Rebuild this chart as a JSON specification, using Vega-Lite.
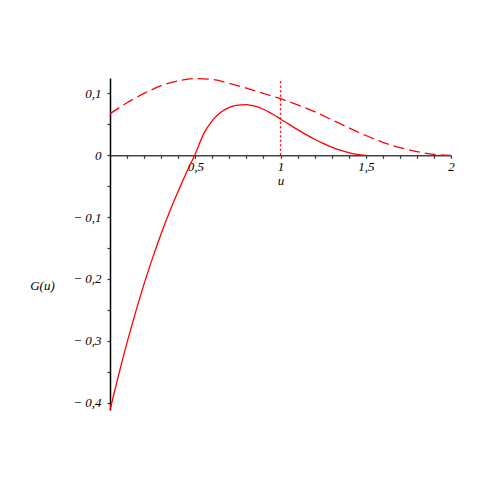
{
  "$schema": "https://vega.github.io/schema/vega-lite/v6.json",
  "autosize": "none",
  "width": 341,
  "height": 332,
  "padding": {"left": 110, "top": 78, "right": 40, "bottom": 81},
  "background": "white",
  "config": {"view": {"stroke": null}, "font": "Liberation Serif"},
  "datasets": {
    "solid": [
      {"u": 0, "G": -0.412}, {"u": 0.05, "G": -0.356}, {"u": 0.1, "G": -0.303}, {"u": 0.15, "G": -0.254},
      {"u": 0.2, "G": -0.208}, {"u": 0.25, "G": -0.166}, {"u": 0.3, "G": -0.127}, {"u": 0.35, "G": -0.091},
      {"u": 0.4, "G": -0.058}, {"u": 0.45, "G": -0.027}, {"u": 0.5, "G": 0.002}, {"u": 0.55, "G": 0.035},
      {"u": 0.6, "G": 0.056}, {"u": 0.65, "G": 0.0695}, {"u": 0.7, "G": 0.0775}, {"u": 0.75, "G": 0.0812},
      {"u": 0.8, "G": 0.082}, {"u": 0.85, "G": 0.0795}, {"u": 0.9, "G": 0.0745}, {"u": 0.95, "G": 0.0672},
      {"u": 1.0, "G": 0.0588}, {"u": 1.05, "G": 0.050}, {"u": 1.1, "G": 0.0415}, {"u": 1.15, "G": 0.0335},
      {"u": 1.2, "G": 0.026}, {"u": 1.25, "G": 0.0192}, {"u": 1.3, "G": 0.0132}, {"u": 1.35, "G": 0.0082},
      {"u": 1.4, "G": 0.0043}, {"u": 1.45, "G": 0.0013}, {"u": 1.5, "G": 0}
    ],
    "dashed": [
      {"u": 0, "G": 0.067}, {"u": 0.1, "G": 0.085}, {"u": 0.2, "G": 0.1}, {"u": 0.3, "G": 0.1125},
      {"u": 0.4, "G": 0.1205}, {"u": 0.5, "G": 0.124}, {"u": 0.6, "G": 0.1225}, {"u": 0.7, "G": 0.1165},
      {"u": 0.8, "G": 0.1085}, {"u": 0.9, "G": 0.1002}, {"u": 1.0, "G": 0.0915}, {"u": 1.1, "G": 0.0815},
      {"u": 1.2, "G": 0.0705}, {"u": 1.3, "G": 0.0575}, {"u": 1.4, "G": 0.0445}, {"u": 1.5, "G": 0.032},
      {"u": 1.6, "G": 0.021}, {"u": 1.7, "G": 0.0125}, {"u": 1.8, "G": 0.006}, {"u": 1.9, "G": 0.0015},
      {"u": 2.0, "G": 0}
    ],
    "marker": [{"u": 1, "G": 0, "G2": 0.12}]
  },
  "encoding": {
    "x": {
      "field": "u", "type": "quantitative",
      "scale": {"domain": [0, 2], "nice": false, "zero": false},
      "axis": {
        "title": "u", "orient": "bottom", "offset": -254.72,
        "values": [0.1, 0.2, 0.3, 0.4, 0.5, 0.6, 0.7, 0.8, 0.9, 1, 1.1, 1.2, 1.3, 1.4, 1.5, 1.6, 1.7, 1.8, 1.9, 2],
        "labelExpr": "abs(datum.value*2 - round(datum.value*2)) < 0.001 ? replace(format(datum.value, '~g'), '.', ',') : ''",
        "grid": false, "tickSize": 3, "tickColor": "#333333", "domainColor": "#444444", "domainWidth": 1.5, "tickWidth": 1.2,
        "labelFont": "Liberation Serif", "labelFontStyle": "italic", "labelFontSize": 13, "labelColor": "black", "labelPadding": 2,
        "labelFlush": false, "labelOverlap": false, "labelBound": false,
        "titleFont": "Liberation Serif", "titleFontStyle": "italic", "titleFontWeight": "normal", "titleFontSize": 13, "titleColor": "black", "titlePadding": 1
      }
    },
    "y": {
      "field": "G", "type": "quantitative",
      "scale": {"domain": [-0.412, 0.125], "nice": false, "zero": false},
      "axis": {
        "title": "G(u)", "orient": "left",
        "values": [-0.4, -0.35, -0.3, -0.25, -0.2, -0.15, -0.1, -0.05, 0, 0.05, 0.1],
        "labelExpr": "abs(datum.value*10 - round(datum.value*10)) < 0.001 ? (datum.value < 0 ? '− ' + replace(format(-datum.value, '~g'), '.', ',') : replace(format(datum.value, '~g'), '.', ',')) : ''",
        "grid": false, "tickSize": 3, "tickColor": "#333333", "domainColor": "black", "domainWidth": 1.5, "tickWidth": 1.2,
        "labelFont": "Liberation Serif", "labelFontStyle": "italic", "labelFontSize": 13, "labelColor": "black", "labelPadding": 6,
        "labelFlush": false, "labelOverlap": false, "labelBound": false,
        "titleFont": "Liberation Serif", "titleFontStyle": "italic", "titleFontWeight": "normal", "titleFontSize": 13, "titleColor": "black",
        "titleAngle": 0, "titleX": -68, "titleY": 207, "titleAlign": "center", "titleBaseline": "middle"
      }
    }
  },
  "layer": [
    {
      "data": {"name": "solid"},
      "mark": {"type": "line", "color": "#ff0000", "strokeWidth": 1.3, "interpolate": "monotone"}
    },
    {
      "data": {"name": "dashed"},
      "mark": {"type": "line", "color": "#ff0000", "strokeWidth": 1.3, "strokeDash": [11, 5], "interpolate": "monotone"}
    },
    {
      "data": {"name": "marker"},
      "mark": {"type": "rule", "color": "#ff0000", "strokeWidth": 1.3, "strokeDash": [2, 2.5]},
      "encoding": {"y2": {"field": "G2"}}
    }
  ]
}
